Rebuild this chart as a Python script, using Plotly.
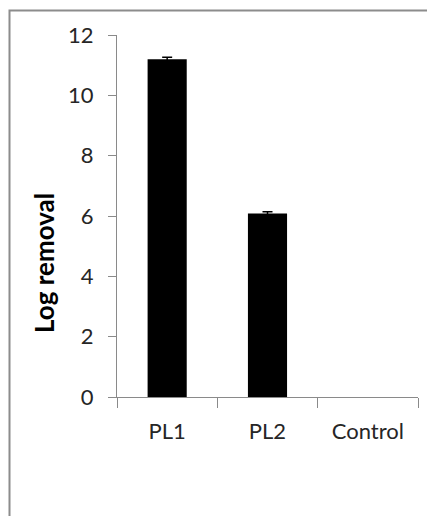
import plotly.graph_objects as go

categories = ["PL1", "PL2", "Control"]
values = [11.2, 6.08, 0]
# error bars exist only for the PL1 and PL2 bars
err_categories = ["PL1", "PL2"]
err_values = [11.2, 6.08]
errors = [0.06, 0.06]
y_ticks = [0, 2, 4, 6, 8, 10, 12]

W, H = 427, 516
L, R, T, B = 117, 9, 35, 119
pw, ph = W - L - R, H - T - B

def px_x(x):
    return (x - L) / pw

def px_y(y):
    return (H - B - y) / ph

fig = go.Figure()
fig.add_trace(go.Bar(
    x=categories, y=values,
    marker=dict(color="black", line=dict(width=0)),
))
fig.add_trace(go.Scatter(
    x=err_categories, y=err_values, mode="markers",
    marker=dict(size=1, color="rgba(0,0,0,0)"),
    error_y=dict(type="data", array=errors, visible=True, color="black",
                 thickness=1.5, width=5),
    hoverinfo="skip",
))

axis_gray = "#8a8a8a"
font_family = "Lato, 'Open Sans', sans-serif"

fig.update_layout(
    width=W, height=H,
    margin=dict(l=L, r=R, t=T, b=B, pad=0),
    paper_bgcolor="white", plot_bgcolor="white",
    bargap=0.61,
    showlegend=False,
    font=dict(family=font_family, size=22, color="#262626"),
    xaxis=dict(
        type="category", categoryorder="array", categoryarray=categories,
        tickson="boundaries", ticks="outside", ticklen=10,
        tickcolor=axis_gray, tickwidth=1.3, showline=True, linecolor=axis_gray,
        linewidth=1.3, showgrid=False, zeroline=False,
        tickfont=dict(family=font_family, size=22, color="#262626"),
        ticklabelstandoff=14,
    ),
    yaxis=dict(
        range=[0, 12], tickvals=y_ticks, ticks="outside", ticklen=8,
        tickcolor=axis_gray, tickwidth=1.3, showline=True, linecolor=axis_gray,
        linewidth=1.3, showgrid=False, zeroline=False,
        tickfont=dict(family=font_family, size=22, color="#262626"),
        ticklabelstandoff=10,
    ),
    annotations=[dict(
        text="<b>Log removal</b>", textangle=-90, showarrow=False,
        xref="paper", yref="paper", x=px_x(44), y=px_y(263),
        xanchor="center", yanchor="middle",
        font=dict(family=font_family, size=26, color="black"),
    )],
    shapes=[dict(
        type="rect", xref="paper", yref="paper",
        x0=px_x(9.5), x1=px_x(440), y0=px_y(530), y1=px_y(10.5),
        line=dict(color="#8c8c8c", width=2), fillcolor="rgba(0,0,0,0)",
        layer="below",
    )],
)

fig.write_html("out.html")
